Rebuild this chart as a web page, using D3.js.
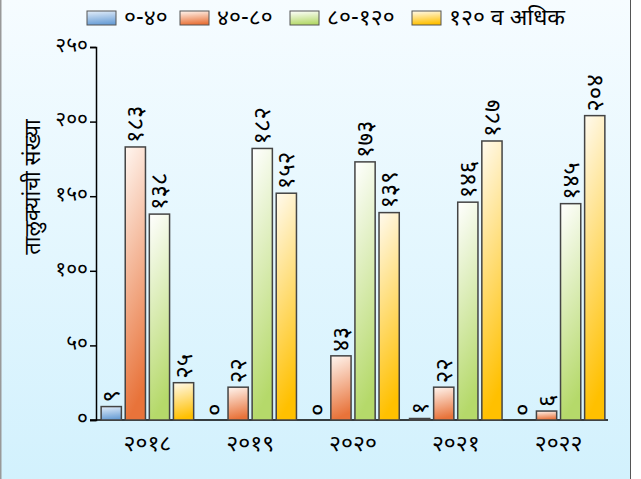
<!DOCTYPE html>
<html lang="mr">
<head>
<meta charset="utf-8"/>
<title>Taluka chart</title>
<script src="https://d3js.org/d3.v7.min.js"></script>
<style>
	body { margin: 0; background: #fff; }
	text { font-family: "Noto Sans Devanagari", "Noto Sans", sans-serif; }
</style>
</head>
<body>
<script>
// data
var years = ["२०१८", "२०१९", "२०२०", "२०२१", "२०२२"];
var seriesNames = ["०-४०", "४०-८०", "८०-१२०", "१२० व अधिक"];
var v0_40 = [9, 0, 0, 1, 0];
var v40_80 = [183, 22, 43, 22, 6];
var v80_120 = [138, 182, 173, 146, 145];
var v120plus = [25, 152, 139, 187, 204];
var yTicks = [0, 50, 100, 150, 200, 250];

var allValues = [v0_40, v40_80, v80_120, v120plus];
var w = 641, h = 479;

// colours for the gradients (top, bottom)
var colours = [
	["#e3eefa", "#6b9fd6"],
	["#fff6f0", "#e8733a"],
	["#ffffff", "#b5d96a"],
	["#fffaee", "#ffc000"]
];

// devanagari digits
var dev = "०१२३४५६७८९";
function toDev(n) {
	return String(n).replace(/[0-9]/g, function(c) { return dev[+c]; });
}

var svg = d3.select("body").append("svg")
	.attr("width", w)
	.attr("height", h);

var defs = svg.append("defs");
var bg = defs.append("linearGradient").attr("id", "bg")
	.attr("x1", 0).attr("y1", 0).attr("x2", 0).attr("y2", 1);
bg.append("stop").attr("offset", "0%").attr("stop-color", "#f6fcff");
bg.append("stop").attr("offset", "100%").attr("stop-color", "#d2f1fd");

colours.forEach(function(c, i) {
	var g = defs.append("linearGradient").attr("id", "g" + i)
		.attr("x1", 0).attr("y1", 0).attr("x2", 0.15).attr("y2", 1);
	g.append("stop").attr("offset", "0%").attr("stop-color", c[0]);
	g.append("stop").attr("offset", "100%").attr("stop-color", c[1]);
});

// background panel
svg.append("rect")
	.attr("x", 0.5).attr("y", -1)
	.attr("width", 630).attr("height", h + 2)
	.attr("fill", "url(#bg)")
	.attr("stroke", "#555")
	.attr("stroke-width", 1);
svg.append("rect")
	.attr("x", 0).attr("y", 0).attr("width", 1.5).attr("height", h)
	.attr("fill", "#999");

var plotLeft = 96, plotRight = 610, plotTop = 47, plotBottom = 420;

var x0 = d3.scaleBand()
	.domain(years)
	.range([plotLeft, plotRight])
	.paddingInner(0.1)
	.paddingOuter(0.05);

var x1 = d3.scaleBand()
	.domain(d3.range(seriesNames.length))
	.range([0, x0.bandwidth()])
	.paddingInner(0.16);

var y = d3.scaleLinear()
	.domain([0, 250])
	.range([plotBottom, plotTop]);

// y axis
var yAxis = d3.axisLeft(y)
	.tickValues(yTicks)
	.tickSize(6)
	.tickFormat(toDev);
var ya = svg.append("g")
	.attr("transform", "translate(" + plotLeft + ",0)")
	.call(yAxis);
ya.select(".domain").attr("stroke", "#000").attr("stroke-width", 1.5);
ya.selectAll(".tick line").attr("stroke", "#000").attr("stroke-width", 1.5);
ya.selectAll(".tick text")
	.attr("font-size", 21)
	.attr("fill", "#000")
	.attr("x", -8)
	.attr("dy", "0.2em")
	.style("font-family", "'Noto Sans Devanagari', 'Noto Sans', sans-serif");

// x axis line
svg.append("line")
	.attr("x1", plotLeft - 6).attr("x2", 608)
	.attr("y1", plotBottom).attr("y2", plotBottom)
	.attr("stroke", "#000").attr("stroke-width", 1.5);

// year labels
svg.selectAll(".year")
	.data(years)
	.enter()
	.append("text")
	.attr("class", "year")
	.attr("x", function(d) { return x0(d) + x0.bandwidth() / 2; })
	.attr("y", 451)
	.attr("text-anchor", "middle")
	.attr("font-size", 23)
	.text(function(d) { return d; });

// y title
svg.append("text")
	.attr("transform", "translate(40,187) rotate(-90)")
	.attr("text-anchor", "middle")
	.attr("font-size", 22)
	.text("तालुक्यांची संख्या");

// bars
var groups = svg.selectAll(".grp")
	.data(years)
	.enter()
	.append("g")
	.attr("transform", function(d) { return "translate(" + x0(d) + ",0)"; });

groups.each(function(yr, yi) {
	var g = d3.select(this);
	allValues.forEach(function(vals, si) {
		var v = vals[yi];
		if (v > 0) {
			g.append("rect")
				.attr("x", x1(si))
				.attr("y", y(v))
				.attr("width", x1.bandwidth())
				.attr("height", y(0) - y(v))
				.attr("fill", "url(#g" + si + ")")
				.attr("stroke", "#444")
				.attr("stroke-width", 1.5);
		}
		var cx = x1(si) + x1.bandwidth() / 2;
		var ty = y(v) - 4;
		g.append("text")
			.attr("transform", "translate(" + (cx + 8) + "," + ty + ") rotate(-90)")
			.attr("font-size", 24)
			.attr("text-anchor", "start")
			.text(toDev(v));
	});
});

// legend
var legendX = [87, 180, 290, 412];
var leg = svg.selectAll(".leg")
	.data(seriesNames)
	.enter()
	.append("g")
	.attr("transform", function(d, i) { return "translate(" + legendX[i] + ",11)"; });
leg.append("rect")
	.attr("width", 29).attr("height", 14)
	.attr("fill", function(d, i) { return "url(#g" + i + ")"; })
	.attr("stroke", "#555")
	.attr("stroke-width", 1);
leg.append("text")
	.attr("x", 37).attr("y", 14)
	.attr("font-size", 23)
	.text(function(d) { return d; });
</script>
</body>
</html>
